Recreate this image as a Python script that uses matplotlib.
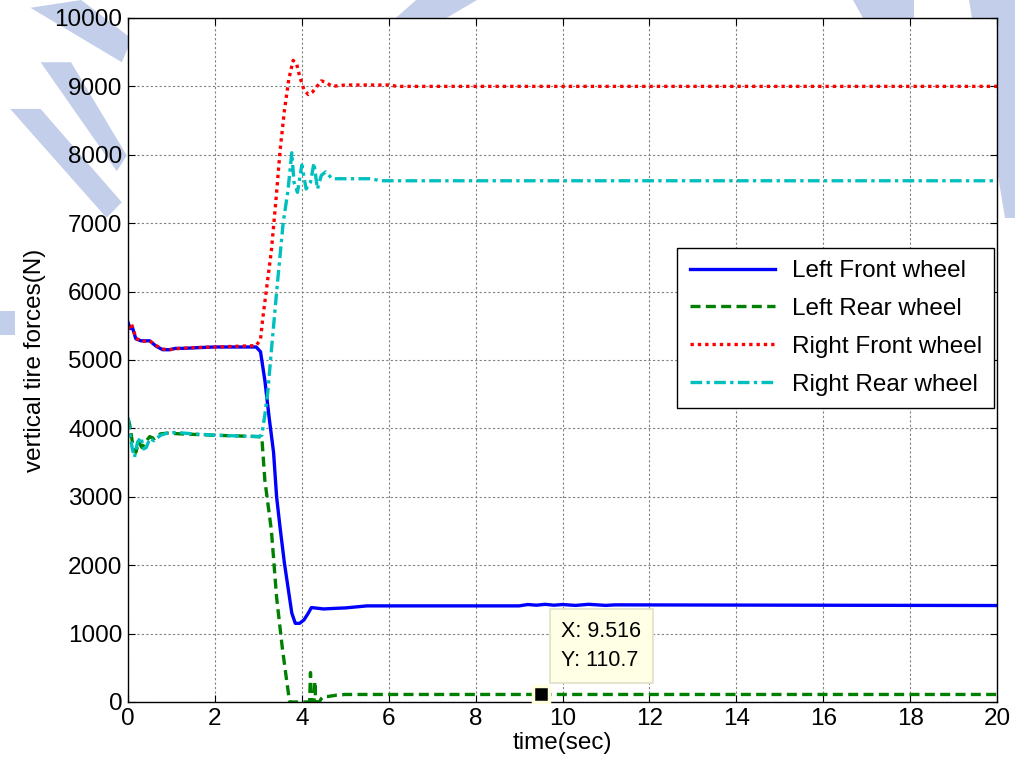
import matplotlib.pyplot as plt
from matplotlib.patches import Polygon

plt.rcParams['font.family'] = ['Liberation Sans', 'DejaVu Sans']

# time (sec) / vertical tire force (N) for each wheel
lf_t = [0, 0.05, 0.1, 0.18, 0.3, 0.5, 0.65, 0.8, 0.95, 1.1, 1.3, 1.6, 2.0, 2.5,
        2.95, 3.05, 3.15, 3.25, 3.35, 3.42, 3.5, 3.6, 3.7, 3.77, 3.85, 3.95,
        4.05, 4.15, 4.22, 4.3, 4.5, 4.8, 5.0, 5.5, 9.0, 9.2, 9.4, 9.6, 9.8,
        10.0, 10.3, 10.6, 11.0, 11.2, 20]
lf_f = [5550, 5460, 5480, 5310, 5280, 5280, 5200, 5150, 5150, 5170, 5170, 5180,
        5190, 5190, 5190, 5120, 4700, 4150, 3650, 3000, 2550, 2030, 1600, 1300,
        1150, 1150, 1200, 1300, 1380, 1375, 1360, 1370, 1375, 1405, 1405, 1425,
        1415, 1428, 1415, 1425, 1412, 1428, 1412, 1420, 1410]

lr_t = [0, 0.04, 0.1, 0.18, 0.25, 0.32, 0.4, 0.5, 0.6, 0.75, 0.9, 1.2, 1.6, 2.0,
        2.5, 3.0, 3.08, 3.15, 3.3, 3.42, 3.55, 3.65, 3.72, 3.8, 4.18, 4.2, 4.22,
        4.24, 4.28, 4.3, 4.32, 4.34, 4.4, 4.45, 4.5, 4.6, 4.8, 5.0, 20]
lr_f = [4150, 4050, 3800, 3650, 3800, 3720, 3800, 3880, 3850, 3920, 3930, 3920,
        3910, 3900, 3890, 3880, 3870, 3240, 2510, 1530, 800, 320, 0, 0, 0, 430,
        0, 0, 0, 300, 0, 0, 0, 50, 80, 80, 100, 110, 110]

rf_t = [0, 0.08, 0.18, 0.3, 0.5, 0.65, 0.8, 0.95, 1.2, 1.5, 2.0, 2.5, 2.95,
        3.05, 3.1, 3.2, 3.3, 3.4, 3.5, 3.6, 3.7, 3.8, 3.88, 3.95, 4.05, 4.15,
        4.25, 4.35, 4.45, 4.55, 4.7, 5.0, 6.0, 6.2, 20]
rf_f = [5450, 5530, 5320, 5270, 5280, 5210, 5160, 5150, 5170, 5180, 5190, 5200,
        5210, 5300, 5600, 6100, 6600, 7300, 8060, 8650, 9100, 9380, 9330, 9150,
        8950, 8880, 8920, 9000, 9080, 9060, 9000, 9020, 9020, 9000, 9000]

rr_t = [0, 0.05, 0.1, 0.15, 0.22, 0.3, 0.36, 0.42, 0.5, 0.6, 0.75, 0.9, 1.1,
        1.5, 2.0, 2.5, 3.0, 3.08, 3.15, 3.22, 3.3, 3.43, 3.57, 3.68, 3.77, 3.82,
        3.9, 4.0, 4.1, 4.2, 4.28, 4.36, 4.45, 4.55, 4.7, 5.0, 5.6, 5.8, 20]
rr_f = [4150, 3900, 3700, 3580, 3800, 3870, 3700, 3720, 3850, 3820, 3900, 3930,
        3940, 3920, 3900, 3890, 3880, 3900, 4200, 4550, 5140, 6060, 7000, 7470,
        8030, 7600, 7450, 7850, 7500, 7600, 7880, 7500, 7700, 7750, 7650, 7650,
        7650, 7620, 7620]

labels = ['Left Front wheel', 'Left Rear wheel', 'Right Front wheel', 'Right Rear wheel']
tip_x, tip_y = 9.516, 110.7

fig = plt.figure(figsize=(10.15, 7.78), dpi=100)

# faint watermark behind the axes
wm = '#c3cfea'
for pts in [[(0.03, 0.99), (0.08, 1.0), (0.13, 0.95), (0.12, 0.92)],
            [(0.04, 0.92), (0.07, 0.92), (0.125, 0.80), (0.115, 0.78)],
            [(0.01, 0.86), (0.04, 0.86), (0.12, 0.74), (0.105, 0.72)],
            [(0.41, 1.0), (0.47, 1.0), (0.44, 0.977), (0.39, 0.977)],
            [(0.84, 1.0), (0.90, 1.0), (0.90, 0.977), (0.85, 0.977)],
            [(0.955, 1.0), (1.0, 1.0), (1.0, 0.72), (0.99, 0.72)],
            [(0.0, 0.60), (0.015, 0.60), (0.015, 0.57), (0.0, 0.57)]]:
    fig.patches.append(Polygon(pts, closed=True, transform=fig.transFigure,
                               facecolor=wm, edgecolor='none', zorder=-5))

ax = fig.add_axes([0.1261, 0.0977, 0.8562, 0.8792])
ax.plot(lf_t, lf_f, color='#0000ff', lw=2.4, ls='-', label=labels[0])
ax.plot(lr_t, lr_f, color='#008000', lw=2.4, ls=(0, (3, 1.6)), label=labels[1])
ax.plot(rf_t, rf_f, color='#ff0000', lw=2.4, ls=(0, (1, 1.2)), label=labels[2])
ax.plot(rr_t, rr_f, color='#00bfbf', lw=2.4, ls=(0, (3.5, 1.3, 1, 1.3)), label=labels[3])

ax.set_xlim(0, 20)
ax.set_ylim(0, 10000)
ax.set_xticks(range(0, 21, 2))
ax.set_yticks(range(0, 10001, 1000))
ax.grid(True, color='#808080', ls=(0, (2, 2)), lw=0.8)
ax.set_axisbelow(True)
ax.tick_params(direction='in', top=True, right=True, length=5, labelsize=17.5, pad=4)
for s in ax.spines.values():
    s.set_linewidth(1.0)

ax.set_xlabel('time(sec)', fontsize=17.5, labelpad=2)
ax.set_ylabel('vertical tire forces(N)', fontsize=17.5, labelpad=6)

leg = ax.legend(loc='upper right', bbox_to_anchor=(0.9965, 0.6637), borderaxespad=0,
                fontsize=17.5, handlelength=3.5, labelspacing=0.65, fancybox=False,
                framealpha=1, edgecolor='black', borderpad=0.5, handletextpad=0.7)
leg.get_frame().set_linewidth(1.0)

# data tip
ax.plot([tip_x], [tip_y], marker='s', ms=11, mfc='black', mec='#ffffe0', mew=2.5,
        zorder=5, clip_on=False)
ax.annotate('X: %.3f\nY: %.1f' % (tip_x, tip_y), xy=(tip_x, tip_y),
            xytext=(20, 23), textcoords='offset pixels', ha='left', va='bottom',
            fontsize=15.5, linespacing=1.55,
            bbox=dict(boxstyle='square,pad=0.55', fc='#ffffe6', ec='#e0e0c8', lw=1.2))

fig.savefig('out.png', dpi=100)
